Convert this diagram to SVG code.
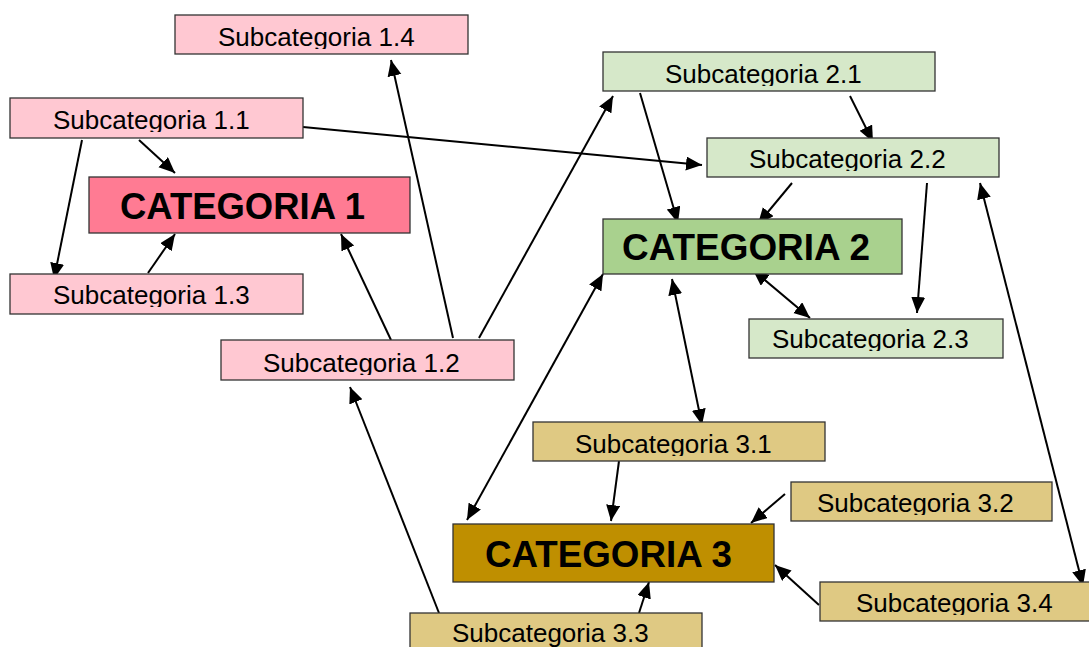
<svg xmlns="http://www.w3.org/2000/svg" width="1089" height="647" viewBox="0 0 1089 647">
  <style>
    .box { stroke: #333333; stroke-width: 1.3; }
    .sub1 { fill: #FFC8D2; }
    .cat1 { fill: #FF7B93; }
    .sub2 { fill: #D6E8C9; }
    .cat2 { fill: #A9D18E; }
    .sub3 { fill: #DFC983; }
    .cat3 { fill: #BF8F00; }
    .lbl { font-family: "Liberation Sans", Arial, sans-serif; font-size: 26px; fill: #000000; }
    .big { font-family: "Liberation Sans", Arial, sans-serif; font-size: 36px; font-weight: bold; fill: #000000; }
    .link { fill: none; stroke: #000000; stroke-width: 2; }
  </style>
  <defs>
    <marker id="head" markerUnits="userSpaceOnUse" markerWidth="17" markerHeight="15" refX="16" refY="7" orient="auto-start-reverse">
      <path d="M0,0 L16,7 L0,14 Z" fill="#000000"/>
    </marker>
    <!-- label clips: each subcategory label is cut just below its baseline -->
    <clipPath id="c14"><rect x="175" y="15" width="293" height="34"/></clipPath>
    <clipPath id="c11"><rect x="10" y="98" width="293" height="34"/></clipPath>
    <clipPath id="c13"><rect x="10" y="274" width="293" height="33"/></clipPath>
    <clipPath id="c12"><rect x="221" y="340" width="293" height="35"/></clipPath>
    <clipPath id="c21"><rect x="603" y="52" width="332" height="34"/></clipPath>
    <clipPath id="c22"><rect x="707" y="138" width="292" height="33"/></clipPath>
    <clipPath id="c23"><rect x="749" y="319" width="254" height="32"/></clipPath>
    <clipPath id="c31"><rect x="533" y="422" width="292" height="34"/></clipPath>
    <clipPath id="c32"><rect x="791" y="482" width="261" height="33"/></clipPath>
    <clipPath id="c34"><rect x="820" y="582" width="280" height="33"/></clipPath>
    <clipPath id="c33"><rect x="410" y="613" width="292" height="34"/></clipPath>
  </defs>

  <rect width="1089" height="647" fill="#FFFFFF"/>

  <!-- connectors -->
  <g id="connectors" class="link">
    <path d="M139,140 L175,173" marker-end="url(#head)"/>
    <path d="M82,140 L54,279" marker-end="url(#head)"/>
    <path d="M148,273 L175,234" marker-end="url(#head)"/>
    <path d="M303,127 L702,165" marker-end="url(#head)"/>
    <path d="M391,340 L341,234" marker-end="url(#head)"/>
    <path d="M453,338 L391,60" marker-end="url(#head)"/>
    <path d="M479,338 L613,96" marker-end="url(#head)"/>
    <path d="M439,613 L350,387" marker-end="url(#head)"/>
    <path d="M640,93 L678,223" marker-end="url(#head)"/>
    <path d="M850,96 L873,142" marker-end="url(#head)"/>
    <path d="M792,183 L758,224" marker-end="url(#head)"/>
    <path d="M927,183 L917,313" marker-end="url(#head)"/>
    <path d="M753,270 L810,318" marker-start="url(#head)" marker-end="url(#head)"/>
    <path d="M672,279 L702,425" marker-start="url(#head)" marker-end="url(#head)"/>
    <path d="M603,274 L467,520" marker-start="url(#head)" marker-end="url(#head)"/>
    <path d="M980,183 L1083,586" marker-start="url(#head)" marker-end="url(#head)"/>
    <path d="M619,461 L611,521" marker-end="url(#head)"/>
    <path d="M785,494 L751,523" marker-end="url(#head)"/>
    <path d="M639,613 L649,582" marker-end="url(#head)"/>
    <path d="M819,605 L775,565" marker-end="url(#head)"/>
  </g>

  <!-- category 1 -->
  <g id="sub-1-4">
    <rect class="box sub1" x="175" y="15" width="293" height="39"/>
    <text class="lbl" x="218" y="46" clip-path="url(#c14)">Subcategoria 1.4</text>
  </g>
  <g id="sub-1-1">
    <rect class="box sub1" x="10" y="98" width="293" height="40"/>
    <text class="lbl" x="53" y="129" clip-path="url(#c11)">Subcategoria 1.1</text>
  </g>
  <g id="cat-1">
    <rect class="box cat1" x="89" y="177" width="321" height="56"/>
    <text class="big" x="120" y="219" textLength="245" lengthAdjust="spacingAndGlyphs">CATEGORIA 1</text>
  </g>
  <g id="sub-1-3">
    <rect class="box sub1" x="10" y="274" width="293" height="40"/>
    <text class="lbl" x="53" y="304" clip-path="url(#c13)">Subcategoria 1.3</text>
  </g>
  <g id="sub-1-2">
    <rect class="box sub1" x="221" y="340" width="293" height="40"/>
    <text class="lbl" x="263" y="372" clip-path="url(#c12)">Subcategoria 1.2</text>
  </g>

  <!-- category 2 -->
  <g id="sub-2-1">
    <rect class="box sub2" x="603" y="52" width="332" height="39"/>
    <text class="lbl" x="665" y="83" clip-path="url(#c21)">Subcategoria 2.1</text>
  </g>
  <g id="sub-2-2">
    <rect class="box sub2" x="707" y="138" width="292" height="39"/>
    <text class="lbl" x="749" y="168" clip-path="url(#c22)">Subcategoria 2.2</text>
  </g>
  <g id="cat-2">
    <rect class="box cat2" x="603" y="219" width="299" height="55"/>
    <text class="big" x="622" y="260" textLength="248" lengthAdjust="spacingAndGlyphs">CATEGORIA 2</text>
  </g>
  <g id="sub-2-3">
    <rect class="box sub2" x="749" y="319" width="254" height="39"/>
    <text class="lbl" x="772" y="348" clip-path="url(#c23)">Subcategoria 2.3</text>
  </g>

  <!-- category 3 -->
  <g id="sub-3-1">
    <rect class="box sub3" x="533" y="422" width="292" height="39"/>
    <text class="lbl" x="575" y="453" clip-path="url(#c31)">Subcategoria 3.1</text>
  </g>
  <g id="sub-3-2">
    <rect class="box sub3" x="791" y="482" width="261" height="39"/>
    <text class="lbl" x="817" y="512" clip-path="url(#c32)">Subcategoria 3.2</text>
  </g>
  <g id="cat-3">
    <rect class="box cat3" x="453" y="524" width="321" height="58"/>
    <text class="big" x="485" y="567" textLength="247" lengthAdjust="spacingAndGlyphs">CATEGORIA 3</text>
  </g>
  <g id="sub-3-4">
    <rect class="box sub3" x="820" y="582" width="280" height="39"/>
    <text class="lbl" x="856" y="612" clip-path="url(#c34)">Subcategoria 3.4</text>
  </g>
  <g id="sub-3-3">
    <rect class="box sub3" x="410" y="613" width="292" height="40"/>
    <text class="lbl" x="452" y="642" clip-path="url(#c33)">Subcategoria 3.3</text>
  </g>
</svg>
